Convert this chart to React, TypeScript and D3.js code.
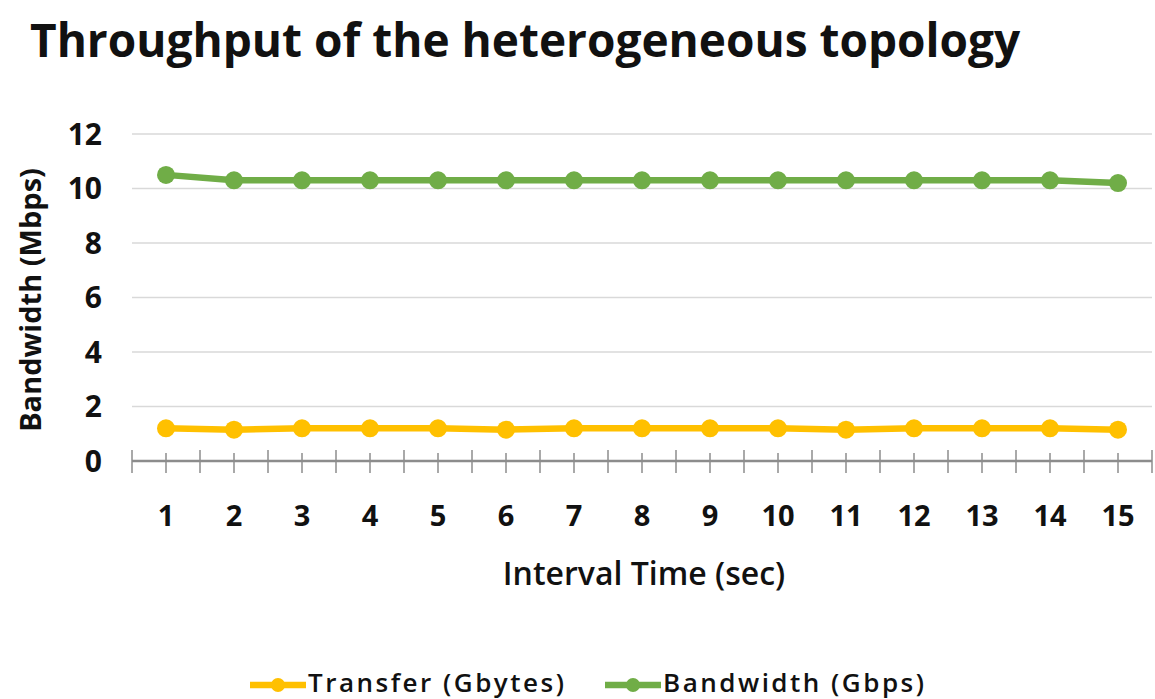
import React, { useEffect, useRef } from 'react';
import * as d3 from 'd3';

// chart values
const intervals = ['1', '2', '3', '4', '5', '6', '7', '8', '9', '10', '11', '12', '13', '14', '15'];
const transfer = [1.2, 1.15, 1.2, 1.2, 1.2, 1.15, 1.2, 1.2, 1.2, 1.2, 1.15, 1.2, 1.2, 1.2, 1.15];
const bandwidth = [10.5, 10.3, 10.3, 10.3, 10.3, 10.3, 10.3, 10.3, 10.3, 10.3, 10.3, 10.3, 10.3, 10.3, 10.2];
const yTicks = [0, 2, 4, 6, 8, 10, 12];

const series = [
  { name: 'Transfer (Gbytes)', values: transfer, color: '#FFC000' },
  { name: 'Bandwidth (Gbps)', values: bandwidth, color: '#70AD47' },
];

const App: React.FC = () => {
  const svgRef = useRef<SVGSVGElement>(null);

  const width = 1155;
  const height = 699;
  const plot = { left: 132, right: 1152, top: 134, bottom: 461 };
  const font = "'Open Sans', sans-serif";

  useEffect(() => {
    if (!svgRef.current) return;
    const svg = d3.select(svgRef.current);
    svg.selectAll('*').remove();

    const x = d3.scaleBand<string>().domain(intervals).range([plot.left, plot.right]);
    const y = d3.scaleLinear().domain([0, 12]).range([plot.bottom, plot.top]);
    const cx = (d: string) => (x(d) ?? 0) + x.bandwidth() / 2;

    // title
    svg.append('text')
      .attr('x', 30)
      .attr('y', 57)
      .attr('font-family', font)
      .attr('font-weight', 700)
      .attr('font-size', 46)
      .attr('fill', '#111')
      .text('Throughput of the heterogeneous topology');

    // gridlines
    svg.append('g')
      .selectAll('line')
      .data(yTicks.filter(t => t > 0))
      .join('line')
      .attr('x1', plot.left)
      .attr('x2', plot.right)
      .attr('y1', d => y(d))
      .attr('y2', d => y(d))
      .attr('stroke', '#d9d9d9')
      .attr('stroke-width', 1.5);

    // y tick labels
    svg.append('g')
      .selectAll('text')
      .data(yTicks)
      .join('text')
      .attr('x', 102)
      .attr('y', d => y(d))
      .attr('dy', '0.36em')
      .attr('text-anchor', 'end')
      .attr('font-family', font)
      .attr('font-weight', 700)
      .attr('font-size', 30)
      .attr('fill', '#111')
      .text(d => d);

    // x axis line + ticks
    const axis = svg.append('g').attr('stroke', '#8c8c8c');
    axis.append('line')
      .attr('x1', plot.left)
      .attr('x2', plot.right)
      .attr('y1', plot.bottom)
      .attr('y2', plot.bottom)
      .attr('stroke-width', 2.5);
    const bounds = intervals.map(d => x(d) ?? 0).concat([plot.right]);
    axis.selectAll('.major')
      .data(bounds)
      .join('line')
      .attr('class', 'major')
      .attr('x1', d => d)
      .attr('x2', d => d)
      .attr('y1', plot.bottom - 11)
      .attr('y2', plot.bottom + 12)
      .attr('stroke-width', 1.5);
    axis.selectAll('.minor')
      .data(intervals)
      .join('line')
      .attr('class', 'minor')
      .attr('x1', d => cx(d))
      .attr('x2', d => cx(d))
      .attr('y1', plot.bottom - 8)
      .attr('y2', plot.bottom + 12)
      .attr('stroke-width', 1.5);

    // x tick labels
    svg.append('g')
      .selectAll('text')
      .data(intervals)
      .join('text')
      .attr('x', d => cx(d))
      .attr('y', 526)
      .attr('text-anchor', 'middle')
      .attr('font-family', font)
      .attr('font-weight', 700)
      .attr('font-size', 29)
      .attr('fill', '#111')
      .text(d => d);

    // axis titles
    svg.append('text')
      .attr('x', 644)
      .attr('y', 585)
      .attr('text-anchor', 'middle')
      .attr('font-family', font)
      .attr('font-weight', 600)
      .attr('font-size', 32)
      .attr('fill', '#111')
      .text('Interval Time (sec)');

    svg.append('text')
      .attr('transform', 'translate(41,300) rotate(-90)')
      .attr('text-anchor', 'middle')
      .attr('font-family', font)
      .attr('font-weight', 700)
      .attr('font-size', 29)
      .attr('fill', '#111')
      .text('Bandwidth  (Mbps)');

    // lines and markers
    const line = d3.line<number>()
      .x((_, i) => cx(intervals[i]))
      .y(d => y(d));

    series.forEach(s => {
      svg.append('path')
        .datum(s.values)
        .attr('d', line)
        .attr('fill', 'none')
        .attr('stroke', s.color)
        .attr('stroke-width', 6.5)
        .attr('stroke-linejoin', 'round');
      svg.append('g')
        .selectAll('circle')
        .data(s.values)
        .join('circle')
        .attr('cx', (_, i) => cx(intervals[i]))
        .attr('cy', d => y(d))
        .attr('r', 9)
        .attr('fill', s.color);
    });

    // legend
    const legendX = [250, 605];
    const legend = svg.append('g')
      .selectAll('g')
      .data(series)
      .join('g')
      .attr('transform', (_, i) => `translate(${legendX[i]},685)`);
    legend.append('line')
      .attr('x1', 0)
      .attr('x2', 56)
      .attr('stroke', d => d.color)
      .attr('stroke-width', 6.5);
    legend.append('circle')
      .attr('cx', 28)
      .attr('r', 7)
      .attr('fill', d => d.color);
    legend.append('text')
      .attr('x', 58)
      .attr('y', 7)
      .attr('font-family', font)
      .attr('font-weight', 600)
      .attr('font-size', 26)
      .attr('letter-spacing', 2.5)
      .attr('fill', '#111')
      .text(d => d.name);
  }, []);

  return (
    <svg
      ref={svgRef}
      width={width}
      height={height}
      style={{ position: 'absolute', left: 0, top: 0, background: '#fff' }}
    />
  );
};

export default App;
